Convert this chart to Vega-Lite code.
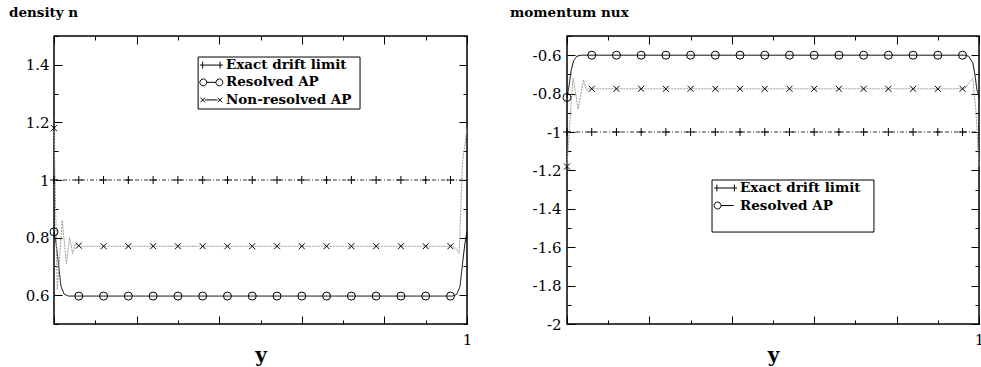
{
  "$schema": "https://vega.github.io/schema/vega-lite/v6.json",
  "background": "white",
  "padding": {"left": 8, "top": 4, "right": 0, "bottom": 0},
  "config": {
    "font": "DejaVu Serif",
    "view": {"stroke": "#000", "strokeWidth": 1.5},
    "axis": {
      "domain": false, "grid": false,
      "labelFont": "DejaVu Serif", "labelFontSize": 15, "labelColor": "#000",
      "tickColor": "#000", "tickWidth": 1,
      "titleFont": "DejaVu Serif", "titleFontSize": 20, "titleFontWeight": "bold", "titleColor": "#000",
      "labelOverlap": false, "labelBound": false, "labelFlush": false
    },
    "title": {"font": "DejaVu Serif", "fontSize": 13.5, "fontWeight": "bold", "color": "#000", "anchor": "start", "frame": "group", "offset": 10},
    "text": {"font": "DejaVu Serif", "fontSize": 13.5, "fontWeight": "bold", "color": "#000", "align": "left", "baseline": "middle"}
  },
  "datasets": {
    "curves": [
      {"panel": "n", "series": "Exact drift limit", "x": 0, "v": 1},
      {"panel": "n", "series": "Exact drift limit", "x": 1, "v": 1},
      {"panel": "n", "series": "Resolved AP", "x": 0, "v": 0.82},
      {"panel": "n", "series": "Resolved AP", "x": 0.005, "v": 0.78},
      {"panel": "n", "series": "Resolved AP", "x": 0.01, "v": 0.72},
      {"panel": "n", "series": "Resolved AP", "x": 0.017, "v": 0.63},
      {"panel": "n", "series": "Resolved AP", "x": 0.025, "v": 0.603},
      {"panel": "n", "series": "Resolved AP", "x": 0.035, "v": 0.597},
      {"panel": "n", "series": "Resolved AP", "x": 0.965, "v": 0.597},
      {"panel": "n", "series": "Resolved AP", "x": 0.975, "v": 0.603},
      {"panel": "n", "series": "Resolved AP", "x": 0.983, "v": 0.63},
      {"panel": "n", "series": "Resolved AP", "x": 0.99, "v": 0.72},
      {"panel": "n", "series": "Resolved AP", "x": 0.995, "v": 0.78},
      {"panel": "n", "series": "Resolved AP", "x": 1, "v": 0.82},
      {"panel": "n", "series": "Non-resolved AP", "x": 0, "v": 1.18},
      {"panel": "n", "series": "Non-resolved AP", "x": 0.008, "v": 0.62},
      {"panel": "n", "series": "Non-resolved AP", "x": 0.02, "v": 0.86},
      {"panel": "n", "series": "Non-resolved AP", "x": 0.03, "v": 0.71},
      {"panel": "n", "series": "Non-resolved AP", "x": 0.038, "v": 0.8},
      {"panel": "n", "series": "Non-resolved AP", "x": 0.045, "v": 0.745},
      {"panel": "n", "series": "Non-resolved AP", "x": 0.052, "v": 0.78},
      {"panel": "n", "series": "Non-resolved AP", "x": 0.06, "v": 0.77},
      {"panel": "n", "series": "Non-resolved AP", "x": 0.965, "v": 0.77},
      {"panel": "n", "series": "Non-resolved AP", "x": 0.973, "v": 0.763},
      {"panel": "n", "series": "Non-resolved AP", "x": 0.981, "v": 0.745},
      {"panel": "n", "series": "Non-resolved AP", "x": 0.989, "v": 1.06},
      {"panel": "n", "series": "Non-resolved AP", "x": 1, "v": 1.18},
      {"panel": "nux", "series": "Exact drift limit", "x": 0, "v": -1},
      {"panel": "nux", "series": "Exact drift limit", "x": 1, "v": -1},
      {"panel": "nux", "series": "Resolved AP", "x": 0, "v": -0.82},
      {"panel": "nux", "series": "Resolved AP", "x": 0.005, "v": -0.76},
      {"panel": "nux", "series": "Resolved AP", "x": 0.01, "v": -0.68},
      {"panel": "nux", "series": "Resolved AP", "x": 0.016, "v": -0.63},
      {"panel": "nux", "series": "Resolved AP", "x": 0.024, "v": -0.605},
      {"panel": "nux", "series": "Resolved AP", "x": 0.035, "v": -0.6},
      {"panel": "nux", "series": "Resolved AP", "x": 0.965, "v": -0.6},
      {"panel": "nux", "series": "Resolved AP", "x": 0.975, "v": -0.605},
      {"panel": "nux", "series": "Resolved AP", "x": 0.985, "v": -0.64},
      {"panel": "nux", "series": "Resolved AP", "x": 0.99, "v": -0.7},
      {"panel": "nux", "series": "Resolved AP", "x": 0.995, "v": -0.78},
      {"panel": "nux", "series": "Resolved AP", "x": 1, "v": -0.82},
      {"panel": "nux", "series": "Non-resolved AP", "x": 0, "v": -1.18},
      {"panel": "nux", "series": "Non-resolved AP", "x": 0.009, "v": -0.88},
      {"panel": "nux", "series": "Non-resolved AP", "x": 0.015, "v": -0.72},
      {"panel": "nux", "series": "Non-resolved AP", "x": 0.027, "v": -0.88},
      {"panel": "nux", "series": "Non-resolved AP", "x": 0.04, "v": -0.73},
      {"panel": "nux", "series": "Non-resolved AP", "x": 0.048, "v": -0.785},
      {"panel": "nux", "series": "Non-resolved AP", "x": 0.055, "v": -0.77},
      {"panel": "nux", "series": "Non-resolved AP", "x": 0.06, "v": -0.775},
      {"panel": "nux", "series": "Non-resolved AP", "x": 0.965, "v": -0.775},
      {"panel": "nux", "series": "Non-resolved AP", "x": 0.985, "v": -0.72},
      {"panel": "nux", "series": "Non-resolved AP", "x": 0.993, "v": -0.9},
      {"panel": "nux", "series": "Non-resolved AP", "x": 1, "v": -1.18}
    ],
    "markers": [
      {"panel": "n", "series": "Exact drift limit", "x": 0, "v": 1},
      {"panel": "n", "series": "Exact drift limit", "x": 0.06, "v": 1},
      {"panel": "n", "series": "Exact drift limit", "x": 0.12, "v": 1},
      {"panel": "n", "series": "Exact drift limit", "x": 0.18, "v": 1},
      {"panel": "n", "series": "Exact drift limit", "x": 0.24, "v": 1},
      {"panel": "n", "series": "Exact drift limit", "x": 0.3, "v": 1},
      {"panel": "n", "series": "Exact drift limit", "x": 0.36, "v": 1},
      {"panel": "n", "series": "Exact drift limit", "x": 0.42, "v": 1},
      {"panel": "n", "series": "Exact drift limit", "x": 0.48, "v": 1},
      {"panel": "n", "series": "Exact drift limit", "x": 0.54, "v": 1},
      {"panel": "n", "series": "Exact drift limit", "x": 0.6, "v": 1},
      {"panel": "n", "series": "Exact drift limit", "x": 0.66, "v": 1},
      {"panel": "n", "series": "Exact drift limit", "x": 0.72, "v": 1},
      {"panel": "n", "series": "Exact drift limit", "x": 0.78, "v": 1},
      {"panel": "n", "series": "Exact drift limit", "x": 0.84, "v": 1},
      {"panel": "n", "series": "Exact drift limit", "x": 0.9, "v": 1},
      {"panel": "n", "series": "Exact drift limit", "x": 0.96, "v": 1},
      {"panel": "n", "series": "Resolved AP", "x": 0, "v": 0.82},
      {"panel": "n", "series": "Resolved AP", "x": 0.06, "v": 0.597},
      {"panel": "n", "series": "Resolved AP", "x": 0.12, "v": 0.597},
      {"panel": "n", "series": "Resolved AP", "x": 0.18, "v": 0.597},
      {"panel": "n", "series": "Resolved AP", "x": 0.24, "v": 0.597},
      {"panel": "n", "series": "Resolved AP", "x": 0.3, "v": 0.597},
      {"panel": "n", "series": "Resolved AP", "x": 0.36, "v": 0.597},
      {"panel": "n", "series": "Resolved AP", "x": 0.42, "v": 0.597},
      {"panel": "n", "series": "Resolved AP", "x": 0.48, "v": 0.597},
      {"panel": "n", "series": "Resolved AP", "x": 0.54, "v": 0.597},
      {"panel": "n", "series": "Resolved AP", "x": 0.6, "v": 0.597},
      {"panel": "n", "series": "Resolved AP", "x": 0.66, "v": 0.597},
      {"panel": "n", "series": "Resolved AP", "x": 0.72, "v": 0.597},
      {"panel": "n", "series": "Resolved AP", "x": 0.78, "v": 0.597},
      {"panel": "n", "series": "Resolved AP", "x": 0.84, "v": 0.597},
      {"panel": "n", "series": "Resolved AP", "x": 0.9, "v": 0.597},
      {"panel": "n", "series": "Resolved AP", "x": 0.96, "v": 0.597},
      {"panel": "n", "series": "Non-resolved AP", "x": 0, "v": 1.18},
      {"panel": "n", "series": "Non-resolved AP", "x": 0.06, "v": 0.772},
      {"panel": "n", "series": "Non-resolved AP", "x": 0.12, "v": 0.77},
      {"panel": "n", "series": "Non-resolved AP", "x": 0.18, "v": 0.77},
      {"panel": "n", "series": "Non-resolved AP", "x": 0.24, "v": 0.77},
      {"panel": "n", "series": "Non-resolved AP", "x": 0.3, "v": 0.77},
      {"panel": "n", "series": "Non-resolved AP", "x": 0.36, "v": 0.77},
      {"panel": "n", "series": "Non-resolved AP", "x": 0.42, "v": 0.77},
      {"panel": "n", "series": "Non-resolved AP", "x": 0.48, "v": 0.77},
      {"panel": "n", "series": "Non-resolved AP", "x": 0.54, "v": 0.77},
      {"panel": "n", "series": "Non-resolved AP", "x": 0.6, "v": 0.77},
      {"panel": "n", "series": "Non-resolved AP", "x": 0.66, "v": 0.77},
      {"panel": "n", "series": "Non-resolved AP", "x": 0.72, "v": 0.77},
      {"panel": "n", "series": "Non-resolved AP", "x": 0.78, "v": 0.77},
      {"panel": "n", "series": "Non-resolved AP", "x": 0.84, "v": 0.77},
      {"panel": "n", "series": "Non-resolved AP", "x": 0.9, "v": 0.77},
      {"panel": "n", "series": "Non-resolved AP", "x": 0.96, "v": 0.77},
      {"panel": "nux", "series": "Exact drift limit", "x": 0, "v": -1},
      {"panel": "nux", "series": "Exact drift limit", "x": 0.06, "v": -1},
      {"panel": "nux", "series": "Exact drift limit", "x": 0.12, "v": -1},
      {"panel": "nux", "series": "Exact drift limit", "x": 0.18, "v": -1},
      {"panel": "nux", "series": "Exact drift limit", "x": 0.24, "v": -1},
      {"panel": "nux", "series": "Exact drift limit", "x": 0.3, "v": -1},
      {"panel": "nux", "series": "Exact drift limit", "x": 0.36, "v": -1},
      {"panel": "nux", "series": "Exact drift limit", "x": 0.42, "v": -1},
      {"panel": "nux", "series": "Exact drift limit", "x": 0.48, "v": -1},
      {"panel": "nux", "series": "Exact drift limit", "x": 0.54, "v": -1},
      {"panel": "nux", "series": "Exact drift limit", "x": 0.6, "v": -1},
      {"panel": "nux", "series": "Exact drift limit", "x": 0.66, "v": -1},
      {"panel": "nux", "series": "Exact drift limit", "x": 0.72, "v": -1},
      {"panel": "nux", "series": "Exact drift limit", "x": 0.78, "v": -1},
      {"panel": "nux", "series": "Exact drift limit", "x": 0.84, "v": -1},
      {"panel": "nux", "series": "Exact drift limit", "x": 0.9, "v": -1},
      {"panel": "nux", "series": "Exact drift limit", "x": 0.96, "v": -1},
      {"panel": "nux", "series": "Resolved AP", "x": 0, "v": -0.82},
      {"panel": "nux", "series": "Resolved AP", "x": 0.06, "v": -0.6},
      {"panel": "nux", "series": "Resolved AP", "x": 0.12, "v": -0.6},
      {"panel": "nux", "series": "Resolved AP", "x": 0.18, "v": -0.6},
      {"panel": "nux", "series": "Resolved AP", "x": 0.24, "v": -0.6},
      {"panel": "nux", "series": "Resolved AP", "x": 0.3, "v": -0.6},
      {"panel": "nux", "series": "Resolved AP", "x": 0.36, "v": -0.6},
      {"panel": "nux", "series": "Resolved AP", "x": 0.42, "v": -0.6},
      {"panel": "nux", "series": "Resolved AP", "x": 0.48, "v": -0.6},
      {"panel": "nux", "series": "Resolved AP", "x": 0.54, "v": -0.6},
      {"panel": "nux", "series": "Resolved AP", "x": 0.6, "v": -0.6},
      {"panel": "nux", "series": "Resolved AP", "x": 0.66, "v": -0.6},
      {"panel": "nux", "series": "Resolved AP", "x": 0.72, "v": -0.6},
      {"panel": "nux", "series": "Resolved AP", "x": 0.78, "v": -0.6},
      {"panel": "nux", "series": "Resolved AP", "x": 0.84, "v": -0.6},
      {"panel": "nux", "series": "Resolved AP", "x": 0.9, "v": -0.6},
      {"panel": "nux", "series": "Resolved AP", "x": 0.96, "v": -0.6},
      {"panel": "nux", "series": "Non-resolved AP", "x": 0, "v": -1.18},
      {"panel": "nux", "series": "Non-resolved AP", "x": 0.06, "v": -0.775},
      {"panel": "nux", "series": "Non-resolved AP", "x": 0.12, "v": -0.775},
      {"panel": "nux", "series": "Non-resolved AP", "x": 0.18, "v": -0.775},
      {"panel": "nux", "series": "Non-resolved AP", "x": 0.24, "v": -0.775},
      {"panel": "nux", "series": "Non-resolved AP", "x": 0.3, "v": -0.775},
      {"panel": "nux", "series": "Non-resolved AP", "x": 0.36, "v": -0.775},
      {"panel": "nux", "series": "Non-resolved AP", "x": 0.42, "v": -0.775},
      {"panel": "nux", "series": "Non-resolved AP", "x": 0.48, "v": -0.775},
      {"panel": "nux", "series": "Non-resolved AP", "x": 0.54, "v": -0.775},
      {"panel": "nux", "series": "Non-resolved AP", "x": 0.6, "v": -0.775},
      {"panel": "nux", "series": "Non-resolved AP", "x": 0.66, "v": -0.775},
      {"panel": "nux", "series": "Non-resolved AP", "x": 0.72, "v": -0.775},
      {"panel": "nux", "series": "Non-resolved AP", "x": 0.78, "v": -0.775},
      {"panel": "nux", "series": "Non-resolved AP", "x": 0.84, "v": -0.775},
      {"panel": "nux", "series": "Non-resolved AP", "x": 0.9, "v": -0.775},
      {"panel": "nux", "series": "Non-resolved AP", "x": 0.96, "v": -0.775}
    ],
    "key": [{"entry": "legend"}]
  },
  "spacing": 36,
  "resolve": {
    "scale": {"shape": "independent", "color": "independent", "strokeDash": "independent"}
  },
  "hconcat": [
    {
      "title": {"text": "density n", "dx": -45},
      "width": 413,
      "height": 288,
      "resolve": {"axis": {"x": "independent", "y": "independent"}},
      "layer": [
        {
          "data": {"name": "curves"},
          "transform": [{"filter": "datum.panel == 'n'"}],
          "mark": {"type": "line", "strokeWidth": 1},
          "encoding": {
            "x": {
              "field": "x", "type": "quantitative",
              "scale": {"domain": [0, 1], "nice": false, "zero": false},
              "axis": {
                "orient": "bottom", "title": "y", "titlePadding": -6,
                "values": [0, 0.1, 0.2, 0.3, 0.4, 0.5, 0.6, 0.7, 0.8, 0.9, 1],
                "labelExpr": "abs(datum.value - 1) < 1e-6 ? '1' : ''",
                "labelPadding": 16,
                "tickSize": {"condition": {"test": "abs(round(datum.value * 10)) % 2 == 0", "value": -8}, "value": -4}
              }
            },
            "y": {
              "field": "v", "type": "quantitative",
              "scale": {"domain": [0.5, 1.5], "nice": false, "zero": false},
              "axis": {
                "orient": "left", "title": null,
                "values": [0.5, 0.6, 0.7, 0.8, 0.9, 1, 1.1, 1.2, 1.3, 1.4, 1.5],
                "labelExpr": "abs(round(datum.value * 10)) % 2 == 0 ? (datum.value < 0 ? '-' : '') + format(abs(datum.value), '~g') : ''",
                "labelPadding": 13,
                "tickSize": {"condition": {"test": "abs(round(datum.value * 10)) % 2 == 0", "value": -8}, "value": -4}
              }
            },
            "detail": {"field": "series"},
            "color": {
              "field": "series",
              "scale": {"domain": ["Exact drift limit", "Resolved AP", "Non-resolved AP"], "range": ["#333", "#000", "#999"]},
              "legend": null
            },
            "strokeDash": {
              "field": "series",
              "scale": {"domain": ["Exact drift limit", "Resolved AP", "Non-resolved AP"], "range": [[4, 2, 1, 2], [1, 0], [2, 1]]},
              "legend": null
            }
          }
        },
        {
          "data": {"name": "markers"},
          "transform": [{"filter": "datum.panel == 'n'"}],
          "mark": {"type": "point", "filled": false, "color": "#000", "strokeWidth": 1, "size": 64, "opacity": 1},
          "encoding": {
            "x": {
              "field": "x", "type": "quantitative",
              "scale": {"domain": [0, 1], "nice": false, "zero": false},
              "axis": {
                "orient": "top", "title": null, "labels": false,
                "values": [0, 0.1, 0.2, 0.3, 0.4, 0.5, 0.6, 0.7, 0.8, 0.9, 1],
                "tickSize": {"condition": {"test": "abs(round(datum.value * 10)) % 2 == 0", "value": -8}, "value": -4}
              }
            },
            "y": {
              "field": "v", "type": "quantitative",
              "scale": {"domain": [0.5, 1.5], "nice": false, "zero": false},
              "axis": {
                "orient": "right", "title": null, "labels": false,
                "values": [0.5, 0.6, 0.7, 0.8, 0.9, 1, 1.1, 1.2, 1.3, 1.4, 1.5],
                "tickSize": {"condition": {"test": "abs(round(datum.value * 10)) % 2 == 0", "value": -8}, "value": -4}
              }
            },
            "shape": {
              "field": "series",
              "type": "nominal",
              "scale": {
                "domain": ["Exact drift limit", "Resolved AP", "Non-resolved AP"],
                "range": ["M-1,0H1M0,-1V1", "circle", "M-0.75,-0.75L0.75,0.75M-0.75,0.75L0.75,-0.75"]
              },
              "legend": null
            }
          }
        },
        {
          "data": {"name": "key"},
          "mark": {"type": "rect", "fill": "#fff", "stroke": "#000", "strokeWidth": 1},
          "encoding": {
            "x": {"datum": 0.349, "type": "quantitative", "scale": {"domain": [0, 1], "nice": false, "zero": false}, "axis": null},
            "x2": {"datum": 0.741},
            "y": {"datum": 1.427, "type": "quantitative", "scale": {"domain": [0.5, 1.5], "nice": false, "zero": false}, "axis": null},
            "y2": {"datum": 1.2465}
          }
        },
        {
          "data": {"name": "key"},
          "mark": {"type": "point", "shape": "M-1,0H1M-0.76,-0.3V0.3M0.76,-0.3V0.3", "size": 529, "filled": false, "color": "#000", "strokeWidth": 1, "opacity": 1},
          "encoding": {
            "x": {"datum": 0.381, "type": "quantitative", "scale": {"domain": [0, 1], "nice": false, "zero": false}, "axis": null},
            "y": {"datum": 1.399, "type": "quantitative", "scale": {"domain": [0.5, 1.5], "nice": false, "zero": false}, "axis": null}
          }
        },
        {
          "data": {"name": "key"},
          "mark": {"type": "point", "shape": "M-1,0A0.3,0.3 0 1,1 -0.4,0A0.3,0.3 0 1,1 -1,0M-0.4,0H0.4M0.4,0A0.3,0.3 0 1,1 1,0A0.3,0.3 0 1,1 0.4,0", "size": 529, "filled": false, "color": "#000", "strokeWidth": 1, "opacity": 1},
          "encoding": {
            "x": {"datum": 0.381, "type": "quantitative", "scale": {"domain": [0, 1], "nice": false, "zero": false}, "axis": null},
            "y": {"datum": 1.339, "type": "quantitative", "scale": {"domain": [0.5, 1.5], "nice": false, "zero": false}, "axis": null}
          }
        },
        {
          "data": {"name": "key"},
          "mark": {"type": "point", "shape": "M-0.95,-0.2L-0.55,0.2M-0.95,0.2L-0.55,-0.2M-0.55,0H0.55M0.55,-0.2L0.95,0.2M0.55,0.2L0.95,-0.2", "size": 529, "filled": false, "color": "#000", "strokeWidth": 1, "opacity": 1},
          "encoding": {
            "x": {"datum": 0.381, "type": "quantitative", "scale": {"domain": [0, 1], "nice": false, "zero": false}, "axis": null},
            "y": {"datum": 1.278, "type": "quantitative", "scale": {"domain": [0.5, 1.5], "nice": false, "zero": false}, "axis": null}
          }
        },
        {
          "data": {"name": "key"},
          "mark": {"type": "text", "text": "Exact drift limit"},
          "encoding": {
            "x": {"datum": 0.4165, "type": "quantitative", "scale": {"domain": [0, 1], "nice": false, "zero": false}, "axis": null},
            "y": {"datum": 1.399, "type": "quantitative", "scale": {"domain": [0.5, 1.5], "nice": false, "zero": false}, "axis": null}
          }
        },
        {
          "data": {"name": "key"},
          "mark": {"type": "text", "text": "Resolved AP"},
          "encoding": {
            "x": {"datum": 0.4165, "type": "quantitative", "scale": {"domain": [0, 1], "nice": false, "zero": false}, "axis": null},
            "y": {"datum": 1.339, "type": "quantitative", "scale": {"domain": [0.5, 1.5], "nice": false, "zero": false}, "axis": null}
          }
        },
        {
          "data": {"name": "key"},
          "mark": {"type": "text", "text": "Non-resolved AP"},
          "encoding": {
            "x": {"datum": 0.4165, "type": "quantitative", "scale": {"domain": [0, 1], "nice": false, "zero": false}, "axis": null},
            "y": {"datum": 1.278, "type": "quantitative", "scale": {"domain": [0.5, 1.5], "nice": false, "zero": false}, "axis": null}
          }
        }
      ]
    },
    {
      "title": {"text": "momentum nux", "dx": -57},
      "width": 412,
      "height": 288,
      "resolve": {"axis": {"x": "independent", "y": "independent"}},
      "layer": [
        {
          "data": {"name": "curves"},
          "transform": [{"filter": "datum.panel == 'nux'"}],
          "mark": {"type": "line", "strokeWidth": 1},
          "encoding": {
            "x": {
              "field": "x", "type": "quantitative",
              "scale": {"domain": [0, 1], "nice": false, "zero": false},
              "axis": {
                "orient": "bottom", "title": "y", "titlePadding": -6,
                "values": [0, 0.1, 0.2, 0.3, 0.4, 0.5, 0.6, 0.7, 0.8, 0.9, 1],
                "labelExpr": "abs(datum.value - 1) < 1e-6 ? '1' : ''",
                "labelPadding": 16,
                "tickSize": {"condition": {"test": "abs(round(datum.value * 10)) % 2 == 0", "value": -8}, "value": -4}
              }
            },
            "y": {
              "field": "v", "type": "quantitative",
              "scale": {"domain": [-2, -0.5], "nice": false, "zero": false},
              "axis": {
                "orient": "left", "title": null,
                "values": [-2, -1.9, -1.8, -1.7, -1.6, -1.5, -1.4, -1.3, -1.2, -1.1, -1, -0.9, -0.8, -0.7, -0.6, -0.5],
                "labelExpr": "abs(round(datum.value * 10)) % 2 == 0 ? (datum.value < 0 ? '-' : '') + format(abs(datum.value), '~g') : ''",
                "labelPadding": 14,
                "tickSize": {"condition": {"test": "abs(round(datum.value * 10)) % 2 == 0", "value": -8}, "value": -4}
              }
            },
            "detail": {"field": "series"},
            "color": {
              "field": "series",
              "scale": {"domain": ["Exact drift limit", "Resolved AP", "Non-resolved AP"], "range": ["#333", "#000", "#999"]},
              "legend": null
            },
            "strokeDash": {
              "field": "series",
              "scale": {"domain": ["Exact drift limit", "Resolved AP", "Non-resolved AP"], "range": [[4, 2, 1, 2], [1, 0], [2, 1]]},
              "legend": null
            }
          }
        },
        {
          "data": {"name": "markers"},
          "transform": [{"filter": "datum.panel == 'nux'"}],
          "mark": {"type": "point", "filled": false, "color": "#000", "strokeWidth": 1, "size": 64, "opacity": 1},
          "encoding": {
            "x": {
              "field": "x", "type": "quantitative",
              "scale": {"domain": [0, 1], "nice": false, "zero": false},
              "axis": {
                "orient": "top", "title": null, "labels": false,
                "values": [0, 0.1, 0.2, 0.3, 0.4, 0.5, 0.6, 0.7, 0.8, 0.9, 1],
                "tickSize": {"condition": {"test": "abs(round(datum.value * 10)) % 2 == 0", "value": -8}, "value": -4}
              }
            },
            "y": {
              "field": "v", "type": "quantitative",
              "scale": {"domain": [-2, -0.5], "nice": false, "zero": false},
              "axis": {
                "orient": "right", "title": null, "labels": false,
                "values": [-2, -1.9, -1.8, -1.7, -1.6, -1.5, -1.4, -1.3, -1.2, -1.1, -1, -0.9, -0.8, -0.7, -0.6, -0.5],
                "tickSize": {"condition": {"test": "abs(round(datum.value * 10)) % 2 == 0", "value": -8}, "value": -4}
              }
            },
            "shape": {
              "field": "series",
              "type": "nominal",
              "scale": {
                "domain": ["Exact drift limit", "Resolved AP", "Non-resolved AP"],
                "range": ["M-1,0H1M0,-1V1", "circle", "M-0.75,-0.75L0.75,0.75M-0.75,0.75L0.75,-0.75"]
              },
              "legend": null
            }
          }
        },
        {
          "data": {"name": "key"},
          "mark": {"type": "rect", "fill": "#fff", "stroke": "#000", "strokeWidth": 1},
          "encoding": {
            "x": {"datum": 0.352, "type": "quantitative", "scale": {"domain": [0, 1], "nice": false, "zero": false}, "axis": null},
            "x2": {"datum": 0.745},
            "y": {"datum": -1.25, "type": "quantitative", "scale": {"domain": [-2, -0.5], "nice": false, "zero": false}, "axis": null},
            "y2": {"datum": -1.521}
          }
        },
        {
          "data": {"name": "key"},
          "mark": {"type": "point", "shape": "M-1,0H1M-0.76,-0.3V0.3M0.76,-0.3V0.3", "size": 529, "filled": false, "color": "#000", "strokeWidth": 1, "opacity": 1},
          "encoding": {
            "x": {"datum": 0.385, "type": "quantitative", "scale": {"domain": [0, 1], "nice": false, "zero": false}, "axis": null},
            "y": {"datum": -1.2917, "type": "quantitative", "scale": {"domain": [-2, -0.5], "nice": false, "zero": false}, "axis": null}
          }
        },
        {
          "data": {"name": "key"},
          "mark": {"type": "point", "shape": "M-1,0A0.3,0.3 0 1,1 -0.4,0A0.3,0.3 0 1,1 -1,0M-0.4,0H0.7", "size": 529, "filled": false, "color": "#000", "strokeWidth": 1, "opacity": 1},
          "encoding": {
            "x": {"datum": 0.385, "type": "quantitative", "scale": {"domain": [0, 1], "nice": false, "zero": false}, "axis": null},
            "y": {"datum": -1.383, "type": "quantitative", "scale": {"domain": [-2, -0.5], "nice": false, "zero": false}, "axis": null}
          }
        },
        {
          "data": {"name": "key"},
          "mark": {"type": "text", "text": "Exact drift limit"},
          "encoding": {
            "x": {"datum": 0.42, "type": "quantitative", "scale": {"domain": [0, 1], "nice": false, "zero": false}, "axis": null},
            "y": {"datum": -1.2917, "type": "quantitative", "scale": {"domain": [-2, -0.5], "nice": false, "zero": false}, "axis": null}
          }
        },
        {
          "data": {"name": "key"},
          "mark": {"type": "text", "text": "Resolved AP"},
          "encoding": {
            "x": {"datum": 0.42, "type": "quantitative", "scale": {"domain": [0, 1], "nice": false, "zero": false}, "axis": null},
            "y": {"datum": -1.383, "type": "quantitative", "scale": {"domain": [-2, -0.5], "nice": false, "zero": false}, "axis": null}
          }
        }
      ]
    }
  ]
}
